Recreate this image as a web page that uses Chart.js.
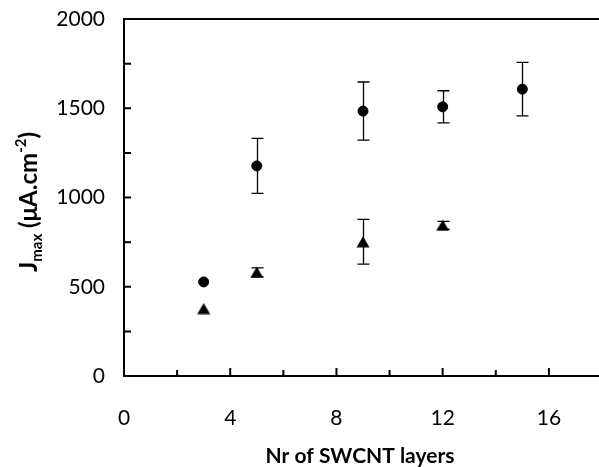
<!DOCTYPE html>
<html>
<head>
<meta charset="utf-8">
<script src="https://cdn.jsdelivr.net/npm/chart.js@4"></script>
<style>
  html, body { margin: 0; padding: 0; background: #fff; overflow: hidden; }
  #wrap { width: 599px; height: 467px; overflow: hidden; }
</style>
</head>
<body>
<div id="wrap"><canvas id="chart" width="610" height="467"></canvas></div>
<script>
// circles
const layersA = [3, 5, 9, 12, 15];
const jmaxA   = [527, 1177, 1484, 1508, 1607];
const errA    = [0, 154, 163, 90, 150];
// triangles
const layersB = [3, 5, 9, 12];
const jmaxB   = [378, 581, 752, 844];
const errB    = [0, 25, 125, 22];

const xTickLabels = ['0', '4', '8', '12', '16'];
const yTickLabels = ['0', '500', '1000', '1500', '2000'];

const FONT = 'Lato';

// triangle marker centred on its bounding box (like Excel)
function makeTriangle() {
    const c = document.createElement('canvas');
    c.width = 14; c.height = 12;
    const g = c.getContext('2d');
    g.fillStyle = '#000';
    g.beginPath();
    g.moveTo(7, 0.5);
    g.lineTo(13.5, 11.5);
    g.lineTo(0.5, 11.5);
    g.closePath();
    g.fill();
    return c;
}

const errorBars = {
    id: 'errorBars',
    afterDatasetsDraw(chart) {
        const c = chart.ctx;
        const xs = chart.scales.x, ys = chart.scales.y;
        const sets = [[layersA, jmaxA, errA], [layersB, jmaxB, errB]];
        c.save();
        c.strokeStyle = '#000';
        c.lineWidth = 1.3;
        sets.forEach(([xv, yv, ev]) => {
            xv.forEach((x, i) => {
                if (!ev[i]) return;
                const px = Math.round(xs.getPixelForValue(x)) + 0.5;
                const top = ys.getPixelForValue(yv[i] + ev[i]);
                const bot = ys.getPixelForValue(yv[i] - ev[i]);
                c.beginPath();
                c.moveTo(px, top); c.lineTo(px, bot);
                c.moveTo(px - 6, top); c.lineTo(px + 6, top);
                c.moveTo(px - 6, bot); c.lineTo(px + 6, bot);
                c.stroke();
            });
        });
        c.restore();
    }
};

const frame = {
    id: 'frame',
    afterDraw(chart) {
        const c = chart.ctx;
        const a = chart.chartArea;
        const xs = chart.scales.x, ys = chart.scales.y;
        c.save();
        c.strokeStyle = '#000';
        // top border
        c.lineWidth = 2;
        c.beginPath();
        c.moveTo(a.left - 1, a.top);
        c.lineTo(chart.width, a.top);
        c.stroke();
        // inward tick marks
        c.beginPath();
        for (let v = 2; v <= 16; v += 2) {
            const px = xs.getPixelForValue(v);
            const len = v % 4 === 0 ? 8 : 6;
            c.moveTo(px, a.bottom); c.lineTo(px, a.bottom - len);
        }
        for (let v = 250; v < 2000; v += 250) {
            const py = ys.getPixelForValue(v);
            c.moveTo(a.left, py); c.lineTo(a.left + 7, py);
        }
        c.stroke();

        // axis titles
        c.fillStyle = '#000';
        c.textBaseline = 'alphabetic';
        c.textAlign = 'center';
        c.font = 'bold 21px ' + FONT;
        c.fillText('Nr of SWCNT layers', 360, 463);

        // y title with sub/superscript
        const parts = [
            ['J', 24, 0], ['max', 15, 5], [' (\u03BCA.cm', 24, 0], ['-2', 15, -11], [')', 24, 0]
        ];
        let total = 0;
        parts.forEach(p => { c.font = 'bold ' + p[1] + 'px ' + FONT; total += c.measureText(p[0]).width; });
        c.translate(37, 202);
        c.rotate(-Math.PI / 2);
        c.textAlign = 'left';
        let x = -total / 2;
        parts.forEach(p => {
            c.font = 'bold ' + p[1] + 'px ' + FONT;
            c.fillText(p[0], x, p[2]);
            x += c.measureText(p[0]).width;
        });
        c.restore();
    }
};

new Chart(document.getElementById('chart'), {
    type: 'scatter',
    data: {
        datasets: [{
            label: 'circles',
            data: layersA.map((x, i) => ({ x: x, y: jmaxA[i] })),
            pointStyle: 'circle',
            pointRadius: 5,
            pointBackgroundColor: '#000',
            pointBorderColor: '#000',
            pointBorderWidth: 1
        }, {
            label: 'triangles',
            data: layersB.map((x, i) => ({ x: x, y: jmaxB[i] })),
            pointStyle: makeTriangle(),
            pointRadius: 7
        }]
    },
    options: {
        responsive: false,
        animation: false,
        layout: { padding: { top: 19, right: 6, left: 0, bottom: 0 } },
        plugins: { legend: { display: false }, tooltip: { enabled: false } },
        scales: {
            x: {
                type: 'linear',
                min: 0, max: 18,
                afterFit: s => { s.height = 91; s.paddingLeft = 0; s.paddingRight = 0; },
                grid: { display: false, drawTicks: false },
                border: { display: true, color: '#000', width: 2 },
                ticks: {
                    stepSize: 2,
                    autoSkip: false,
                    maxRotation: 0,
                    padding: 30,
                    color: '#000',
                    font: { family: FONT, size: 21 },
                    callback: v => (v % 4 === 0 && v <= 16) ? xTickLabels[v / 4] : ''
                }
            },
            y: {
                min: 0, max: 2000,
                afterFit: s => { s.width = 124; s.paddingTop = 0; s.paddingBottom = 0; },
                grid: { display: false, drawTicks: false },
                border: { display: true, color: '#000', width: 2 },
                ticks: {
                    stepSize: 250,
                    autoSkip: false,
                    padding: 19,
                    color: '#000',
                    font: { family: FONT, size: 21 },
                    callback: v => v % 500 === 0 ? yTickLabels[v / 500] : ''
                }
            }
        }
    },
    plugins: [errorBars, frame]
});
</script>
</body>
</html>
